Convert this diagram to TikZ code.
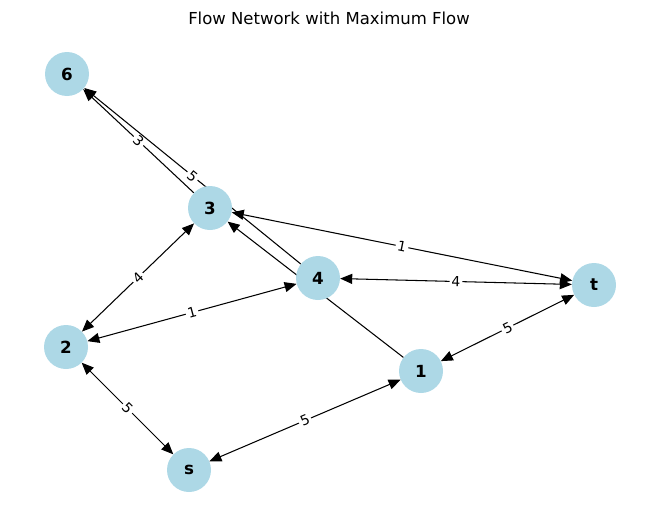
\documentclass[tikz,border=0pt]{standalone}
\usepackage{fontspec}
\setmainfont{DejaVu Sans}
\definecolor{Azzurro}{RGB}{173, 216, 230}
\usetikzlibrary{arrows.meta, backgrounds}
\tikzset{
    nodo/.style = {circle, fill=Azzurro, minimum size=44pt, inner sep=0pt, font=\fontsize{16.7}{16.7}\selectfont\bfseries},
    freccia/.style = {line width=1.05pt, arrows = {-Triangle[length=12pt, width=10pt]}},
    doppia/.style = {line width=1.05pt, arrows = {Triangle[length=12pt, width=10pt]-Triangle[length=12pt, width=10pt]}},
    etichetta/.style = {midway, sloped, fill=white, inner sep=2pt, font=\fontsize{13.9}{13.9}\selectfont},
    titolo/.style = {font=\fontsize{16.5}{16.5}\selectfont}
}

\begin{document}
\begin{tikzpicture}[x=1pt, y=-1pt]
    \useasboundingbox (0,0) rectangle (660,522);

    % titolo
    \node[titolo] (titolo) at (329,18) {Flow Network with Maximum Flow};

    %%% Nodi
    \node[nodo] (n6) at (67,74)   {6};
    \node[nodo] (n3) at (210,208) {3};
    \node[nodo] (n4) at (318,278) {4};
    \node[nodo] (nt) at (594,285) {t};
    \node[nodo] (n2) at (66,347)  {2};
    \node[nodo] (n1) at (421,371) {1};
    \node[nodo] (ns) at (189,470) {s};

    %%% Archi (sotto i nodi)
    \begin{scope}[on background layer]
        % verso 6
        \draw[freccia] (n3) -- (n6) node[etichetta] {3};
        \draw[freccia] (n4) -- (n6) node[etichetta] {5};
        % verso 3
        \draw[freccia] (n1) -- (n3);
        % verso t
        \draw[doppia] (n3) -- (nt) node[etichetta] {1};
        \draw[doppia] (n4) -- (nt) node[etichetta] {4};
        \draw[doppia] (n1) -- (nt) node[etichetta] {5};
        % da 2
        \draw[doppia] (n2) -- (n3) node[etichetta] {4};
        \draw[doppia] (n2) -- (n4) node[etichetta] {1};
        \draw[doppia] (n2) -- (ns) node[etichetta] {5};
        % da s
        \draw[doppia] (ns) -- (n1) node[etichetta] {5};
    \end{scope}
\end{tikzpicture}
\end{document}
